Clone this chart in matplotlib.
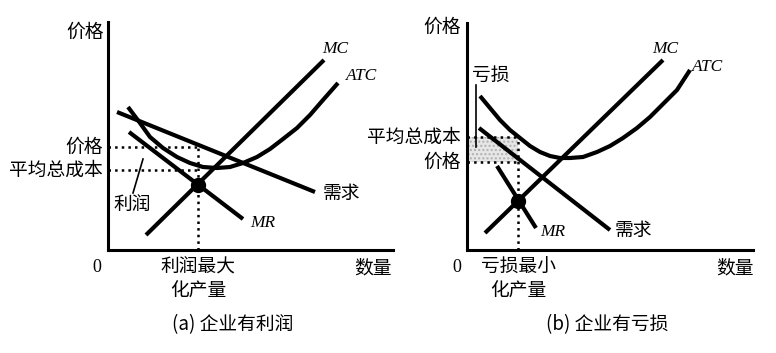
import matplotlib
matplotlib.use("Agg")
from matplotlib import pyplot as plt

plt.rcParams['font.family'] = ['Noto Sans CJK SC', 'DejaVu Sans']

# (a) firm with profit -- coordinates measured from the axis origin
a_mc_x = [38, 216]
a_mc_y = [15, 190]
a_atc_x = [20, 32, 42, 55, 69, 82, 95, 109, 122, 135, 149, 162, 175, 189, 202, 215, 230]
a_atc_y = [143, 127, 113, 102, 93, 87, 83, 82, 83, 87, 93, 101, 111, 122, 135, 150, 167]
a_demand_x = [9, 207]
a_demand_y = [138, 58]
a_mr_x = [21, 135]
a_mr_y = [118, 31]
a_q = 90
a_price = 103
a_atc_level = 80
a_dot = (90, 65)

# (b) firm with loss
b_mc_x = [18, 196]
b_mc_y = [17, 190]
b_atc_x = [13, 23, 33, 43, 53, 63, 73, 83, 93, 103, 116, 130, 143, 156, 170, 183, 196, 210, 223]
b_atc_y = [154, 142, 130, 120, 112, 104, 98, 94, 92, 92, 93, 98, 104, 112, 122, 133, 146, 160, 180]
b_demand_x = [12, 143]
b_demand_y = [122, 20]
b_mr_x = [30, 69]
b_mr_y = [84, 22]
b_q = 51
b_price = 88
b_atc_level = 113
b_dot = (51, 49)

W, H = 776, 353
fig = plt.figure(figsize=(W / 100, H / 100), dpi=100)
fig.patch.set_facecolor('white')

serif_it = dict(family='Liberation Serif', style='italic', fontsize=12.5)
cjk = dict(fontsize=13.5, fontweight='medium')
lw = 3.0


def make_axes(x0, y0, w, h):
    ax = fig.add_axes([x0 / W, (H - y0) / H, w / W, h / H])
    ax.set_xlim(0, w)
    ax.set_ylim(0, h)
    for s in ['top', 'right']:
        ax.spines[s].set_visible(False)
    for s in ['left', 'bottom']:
        ax.spines[s].set_linewidth(2.2)
    ax.set_xticks([])
    ax.set_yticks([])
    ax.patch.set_alpha(0)
    return ax


def draw_panel(ax, mc_x, mc_y, atc_x, atc_y, d_x, d_y, mr_x, mr_y, q, price, atc_level, dot):
    ax.plot(mc_x, mc_y, color='black', lw=lw, solid_capstyle='butt')
    ax.plot(atc_x, atc_y, color='black', lw=lw, solid_capstyle='butt', solid_joinstyle='round')
    ax.plot(d_x, d_y, color='black', lw=lw, solid_capstyle='butt')
    ax.plot(mr_x, mr_y, color='black', lw=lw, solid_capstyle='butt')
    ax.plot([q, q], [0, max(price, atc_level)], color='black', lw=1.8, ls=':')
    ax.plot([0, q], [price, price], color='black', lw=1.8, ls=':')
    ax.plot([0, q], [atc_level, atc_level], color='black', lw=1.8, ls=':')
    ax.plot(*dot, 'o', color='black', ms=10, zorder=5)


# ---- panel (a)
ax1 = make_axes(108, 250, 285, 228)
draw_panel(ax1, a_mc_x, a_mc_y, a_atc_x, a_atc_y, a_demand_x, a_demand_y,
           a_mr_x, a_mr_y, a_q, a_price, a_atc_level, a_dot)
ax1.plot([25, 35], [57, 91], color='black', lw=1.2)
ax1.text(-23, 218, '价格', ha='center', va='center', clip_on=False, **cjk)
ax1.text(-5, a_price, '价格', ha='right', va='center', clip_on=False, **cjk)
ax1.text(-5, a_atc_level, '平均总成本', ha='right', va='center', clip_on=False, **cjk)
ax1.text(5, 46, '利润', ha='left', va='center', **cjk)
ax1.text(-11, -17, '0', ha='center', va='center', family='Liberation Serif', fontsize=13, clip_on=False)
ax1.text(a_q, -29, '利润最大\n化产量', ha='center', va='center', linespacing=1.2, clip_on=False, **cjk)
ax1.text(265, -18, '数量', ha='center', va='center', clip_on=False, **cjk)
ax1.text(227, 201, 'MC', ha='center', va='center', **serif_it)
ax1.text(254, 174, 'ATC', ha='center', va='center', **serif_it)
ax1.text(233, 57, '需求', ha='center', va='center', **cjk)
ax1.text(155, 27, 'MR', ha='center', va='center', **serif_it)
ax1.text(125, -75, '(a) 企业有利润', ha='center', va='center', clip_on=False, fontsize=13.5)

# ---- panel (b)
ax2 = make_axes(467, 250, 286, 227)
ax2.fill_between([0, b_q], b_price, b_atc_level, facecolor='#e6e6e6',
                 edgecolor='#b0b0b0', hatch='....', lw=0)
draw_panel(ax2, b_mc_x, b_mc_y, b_atc_x, b_atc_y, b_demand_x, b_demand_y,
           b_mr_x, b_mr_y, b_q, b_price, b_atc_level, b_dot)
ax2.plot([9, 9], [103, 165], color='black', lw=1.2)
ax2.text(-25, 223, '价格', ha='center', va='center', clip_on=False, **cjk)
ax2.text(-6, b_atc_level, '平均总成本', ha='right', va='center', clip_on=False, **cjk)
ax2.text(-6, b_price, '价格', ha='right', va='center', clip_on=False, **cjk)
ax2.text(5, 175, '亏损', ha='left', va='center', **cjk)
ax2.text(-10, -17, '0', ha='center', va='center', family='Liberation Serif', fontsize=13, clip_on=False)
ax2.text(b_q, -29, '亏损最小\n化产量', ha='center', va='center', linespacing=1.2, clip_on=False, **cjk)
ax2.text(268, -18, '数量', ha='center', va='center', clip_on=False, **cjk)
ax2.text(198, 201, 'MC', ha='center', va='center', **serif_it)
ax2.text(241, 183, 'ATC', ha='center', va='center', **serif_it)
ax2.text(166, 20, '需求', ha='center', va='center', **cjk)
ax2.text(86, 18, 'MR', ha='center', va='center', **serif_it)
ax2.text(140, -75, '(b) 企业有亏损', ha='center', va='center', clip_on=False, fontsize=13.5)

fig.savefig('out.png', dpi=100)
